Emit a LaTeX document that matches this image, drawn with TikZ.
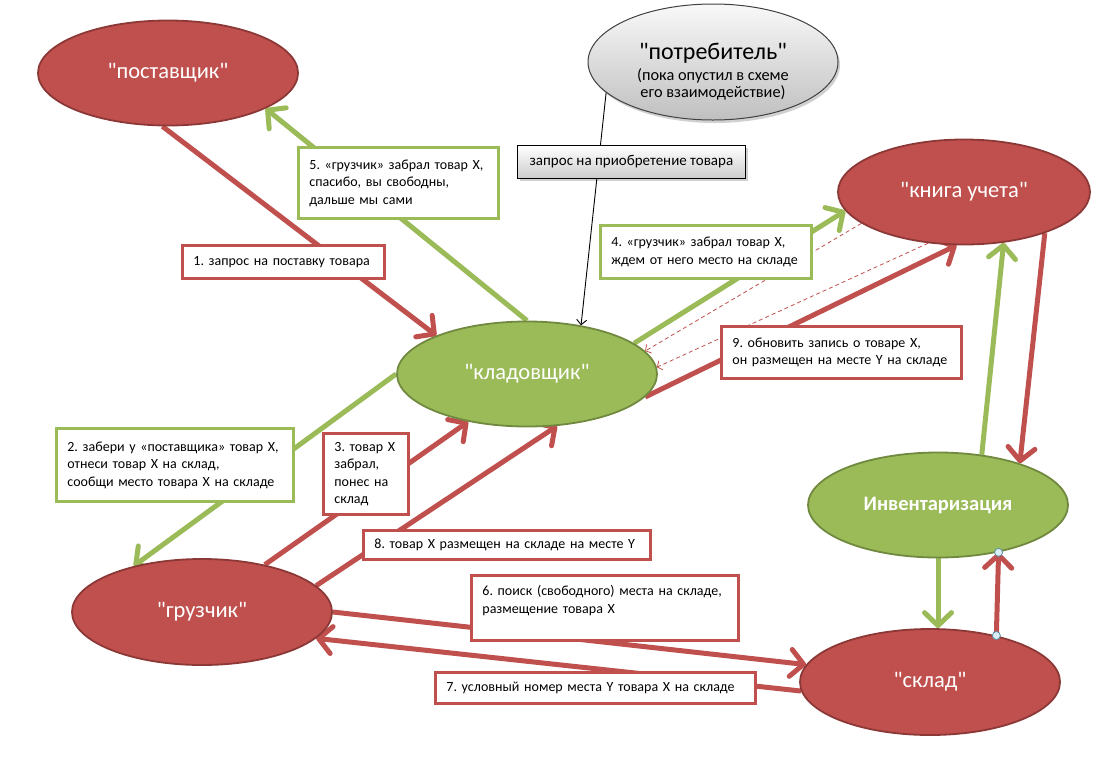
\documentclass[tikz,border=0pt]{standalone}
\usepackage{fontspec}
\setmainfont{Carlito}[Ligatures=TeXOff]
\usetikzlibrary{arrows.meta,shapes.geometric,backgrounds}
\definecolor{rfill}{HTML}{C0504D}
\definecolor{rdraw}{HTML}{8C3836}
\definecolor{gfill}{HTML}{9BBB59}
\definecolor{gdraw}{HTML}{71893F}
\definecolor{hfill}{HTML}{DAEEF3}
\definecolor{hdraw}{HTML}{5B8FA8}
\newcommand\oneline[1]{\mbox{#1}}
\frenchspacing
\tikzset{
 ell/.style={ellipse, minimum width=260pt, minimum height=105pt, inner sep=0pt, line width=1.8pt, font=\fontsize{22.5}{26}\selectfont, text=white},
 redell/.style={ell, fill=rfill, draw=rdraw},
 greenell/.style={ell, fill=gfill, draw=gdraw},
 lbl/.style={draw, line width=2.8pt, fill=white, inner xsep=11pt, inner ysep=0pt, anchor=north west, align=left, font=\fontsize{14}{17.5}\selectfont, text=black},
 rlbl/.style={lbl, draw=rfill},
 glbl/.style={lbl, draw=gfill},
 conn/.style={line width=5pt, -{Straight Barb[length=13pt,width=27pt,round]}},
 rconn/.style={conn, draw=rfill},
 gconn/.style={conn, draw=gfill},
 dconn/.style={draw=rfill, line width=0.8pt, dash pattern=on 4pt off 3pt, -{Straight Barb[length=4pt,width=10pt]}},
 thinconn/.style={draw=black, line width=0.9pt, -{Straight Barb[length=5pt,width=10pt]}},
 handle/.style={circle, draw=hdraw, fill=hfill, line width=0.8pt, minimum size=8pt, inner sep=0pt},
 shadowfill/.style={fill=black, opacity=0.18},
}
\begin{document}
\begin{tikzpicture}[x=1pt,y=-1pt]
\useasboundingbox (0,0) rectangle (1103,764);

% ellipses
\node[redell] (post) at (168,73) {"поставщик"};
\node[ellipse, minimum width=250pt, minimum height=116pt, inner sep=0pt, draw=black!75, line width=1pt,
      top color=gray!5, bottom color=gray!50, align=center, text=black, font=\fontsize{16.3}{17}\selectfont] (potr) at (713,62)
  {{\fontsize{24}{28}\selectfont\rule{0pt}{36pt}"потребитель"}\\[4pt](пока опустил в схеме\\его взаимодействие)};
\node[redell, minimum width=252pt] (kniga) at (964,192) {"книга учета"};
\node[greenell] (klad) at (527,374) {"кладовщик"};
\node[greenell, font=\bfseries\fontsize{20.5}{24}\selectfont] (inv) at (938,505) {Инвентаризация};
\node[redell, minimum height=106pt] (sklad) at (930,682) {"склад"};
\node[redell, minimum height=106pt] (gruz) at (202,612) {"грузчик"};

% labels
\node[draw=black, line width=0.8pt, top color=white, bottom color=gray!40, minimum width=228pt, minimum height=33pt,
      inner sep=0pt, anchor=north west, font=\fontsize{15}{17.5}\selectfont] (bq) at (517,145) {запрос на приобретение товара};
\node[rlbl, text width=180pt, minimum height=33pt] (b1) at (181,244) {\oneline{1. запрос на поставку товара}};
\node[glbl, text width=178pt, minimum height=71pt] (b5) at (297,146) {\oneline{5. «грузчик» забрал товар X,}\\\oneline{спасибо, вы свободны,}\\\oneline{дальше мы сами}};
\node[glbl, text width=189pt, minimum height=53pt] (b4) at (599,224) {\oneline{4. «грузчик» забрал товар X,}\\\oneline{ждем от него место на складе}};
\node[rlbl, text width=218pt, minimum height=52pt] (b9) at (720,325) {\oneline{9. обновить запись о товаре X,}\\\oneline{он размещен на месте Y на складе}};
\node[glbl, text width=215pt, minimum height=73pt] (b2) at (55,427) {\oneline{2. забери у «поставщика» товар X,}\\\oneline{отнеси товар X на склад,}\\\oneline{сообщи место товара X на складе}};
\node[rlbl, text width=63pt, minimum height=81pt] (b3) at (322,432) {\oneline{3. товар X}\\\oneline{забрал,}\\\oneline{понес на}\\\oneline{склад}};
\node[rlbl, text width=265pt, minimum height=29pt] (b8) at (362,529) {\oneline{8. товар X размещен на складе на месте Y}};
\node[rlbl, text width=245pt, minimum height=65pt] (b6) at (470,574) {\oneline{6. поиск (свободного) места на складе,}\\\oneline{размещение товара X}\\\mbox{}};
\node[rlbl, text width=298pt, minimum height=31pt] (b7) at (434,671) {\oneline{7. условный номер места Y товара X на складе}};

% shadows and connectors
\begin{scope}[on background layer]
\fill[shadowfill] ([xshift=2pt,yshift=-3pt]potr.center) ellipse (125pt and 58pt);
\fill[shadowfill] ([xshift=2.5pt,yshift=-2.5pt]bq.south west) rectangle ([xshift=2.5pt,yshift=-2.5pt]bq.north east);
\draw[rconn] (post.264) -- (klad.157);
\draw[gconn] (klad.90) -- (post.340);
\draw[gconn] (klad.180) -- (gruz.146);
\draw[rconn] (gruz.37) -- (klad.219);
\draw[rconn] (gruz.13) -- (klad.300);
\draw[rconn] (gruz.0) -- (sklad.172);
\draw[rconn] (sklad.184) -- (gruz.347);
\draw[gconn] (klad.16) -- (kniga.189);
\draw[rconn] (klad.349) -- (kniga.262);
\draw[dconn] (kniga.197) -- (klad.11);
\draw[dconn] (kniga.235) -- (klad.3);
\draw[gconn] (inv.49) -- (kniga.308);
\draw[rconn] (kniga.333) -- (inv.27);
\draw[gconn] (inv.south) -- (inv.south |- sklad.north);
\draw[rconn] (sklad.35) -- (inv.322);
\draw[thinconn] (potr.196) -- (klad.42);
\end{scope}
\node[handle] (h1) at (sklad.35) {};
\node[handle] (h2) at (inv.322) {};
\end{tikzpicture}
\end{document}
